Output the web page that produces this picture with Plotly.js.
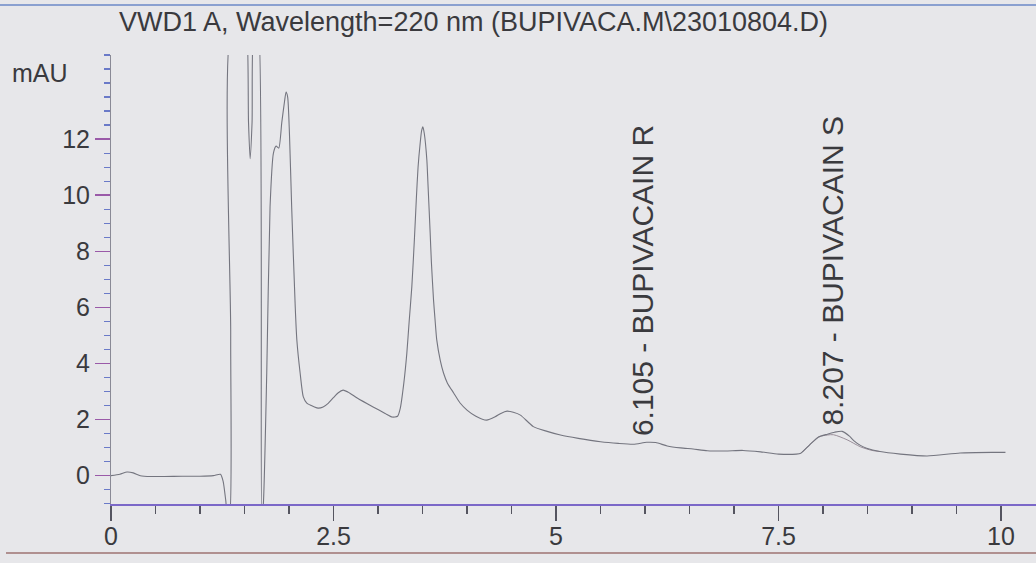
<!DOCTYPE html>
<html>
<head>
<meta charset="utf-8">
<script src="https://cdn.plot.ly/plotly-3.0.1.min.js"></script>
<style>
html,body{margin:0;padding:0;background:#e7e7ea;}
#chart{width:1036px;height:563px;}
</style>
</head>
<body>
<div id="chart"></div>
<script>
// Retention time (min) and absorbance (mAU)
const timeMin = [
  0.00, 0.10, 0.18, 0.25, 0.33, 0.45, 0.60, 0.80, 1.00, 1.15, 1.23, 1.26, 1.29, 1.31, 1.33, 1.345, 1.36,
  1.50, 1.52, 1.545, 1.563, 1.585, 1.608, 1.64, 1.656, 1.694, 1.712, 1.75, 1.787, 1.825, 1.855, 1.885, 1.919, 1.95, 1.967,
  1.985, 2.005, 2.03, 2.07, 2.088, 2.125, 2.16, 2.20, 2.237, 2.28, 2.327, 2.383, 2.44, 2.496, 2.55, 2.608, 2.68, 2.766, 2.945, 3.08, 3.159,
  3.22, 3.25, 3.29, 3.324, 3.35, 3.38, 3.41, 3.43, 3.45, 3.474, 3.49, 3.504, 3.52, 3.549, 3.56, 3.586, 3.60, 3.624, 3.64, 3.66, 3.70, 3.736, 3.78, 3.85, 3.92, 4.00, 4.10, 4.22,
  4.317, 4.38, 4.45, 4.52, 4.60, 4.745, 4.90, 5.05, 5.25, 5.50, 5.70, 5.87, 6.02, 6.12, 6.25, 6.40, 6.54, 6.70, 6.90, 7.10, 7.30, 7.50, 7.70,
  7.75, 7.85, 7.95, 8.05, 8.13, 8.215, 8.30, 8.345, 8.42, 8.49, 8.64, 8.87, 9.17, 9.54, 9.90, 10.05
];
const absorbance = [
  0.00, 0.05, 0.13, 0.10, 0.00, -0.03, -0.03, -0.02, -0.02, 0.00, 0.05, -0.20, -0.90, -1.50, -1.50, 5.0, 16.0,
  16.0, 16.0, 12.6, 11.3, 12.6, 16.0, 16.0, 16.0, -1.50, -1.00, 3.66, 9.58, 11.50, 11.75, 11.68, 12.60, 13.35, 13.68,
  13.50, 12.20, 9.58, 6.02, 4.84, 3.66, 2.82, 2.59, 2.52, 2.46, 2.41, 2.45, 2.58, 2.77, 2.95, 3.05, 2.95, 2.77, 2.45, 2.22, 2.09,
  2.12, 2.40, 3.30, 4.37, 5.50, 6.74, 8.50, 9.83, 11.00, 11.86, 12.30, 12.44, 12.20, 11.25, 10.50, 8.65, 7.60, 6.26, 5.60, 4.84, 4.10, 3.66, 3.30, 2.95, 2.60, 2.34, 2.12, 1.98,
  2.10, 2.22, 2.30, 2.26, 2.16, 1.75, 1.58, 1.45, 1.33, 1.21, 1.15, 1.12, 1.19, 1.18, 1.06, 0.99, 0.95, 0.89, 0.88, 0.90, 0.85, 0.77, 0.77,
  0.80, 1.10, 1.38, 1.48, 1.55, 1.58, 1.40, 1.25, 1.08, 0.98, 0.86, 0.77, 0.70, 0.81, 0.83, 0.83
];
// second, slightly offset overlay visible around the BUPIVACAIN S peak
const overlayTime = [7.75, 7.85, 7.95, 8.05, 8.117, 8.27, 8.42, 8.55, 8.64];
const overlayAbs  = [0.80, 1.10, 1.38, 1.45, 1.46, 1.28, 1.03, 0.90, 0.86];

const peakTimes  = [6.105, 8.207];
const peakNames  = ["6.105 - BUPIVACAIN R", "8.207 - BUPIVACAIN S"];
const labelX     = [5.972, 8.096];
const labelY     = [1.34, 1.70];

const titleText = "VWD1 A, Wavelength=220 nm (BUPIVACA.M\\23010804.D)";
const yUnit = "mAU";
const xTickVals = [0, 2.5, 5, 7.5, 10];
const xTickText = ["0", "2.5", "5", "7.5", "10"];
const yTickVals = [0, 2, 4, 6, 8, 10, 12];
const yTickText = ["0", "2", "4", "6", "8", "10", "12"];

const font = "Liberation Sans, Arial, sans-serif";
const textCol = "#3a3a3e";

const traces = [
  {x: overlayTime, y: overlayAbs, type: "scatter", mode: "lines",
   line: {color: "#9a8f9a", width: 1, shape: "spline", smoothing: 0.8}, hoverinfo: "skip"},
  {x: timeMin, y: absorbance, type: "scatter", mode: "lines",
   line: {color: "#74757f", width: 1.1, shape: "spline", smoothing: 0.6}}
];

const annotations = peakNames.map((t, i) => ({
  x: labelX[i], y: labelY[i], xref: "x", yref: "y",
  text: t, showarrow: false, textangle: -90,
  xanchor: "center", yanchor: "bottom",
  font: {family: font, size: 30, color: textCol}
}));
annotations.push({
  x: 0.3924, y: 1.0735, xref: "paper", yref: "paper",
  text: titleText, showarrow: false, xanchor: "center", yanchor: "middle",
  font: {family: font, size: 27, color: textCol}
});
annotations.push({
  x: -0.1092, y: 0.96, xref: "paper", yref: "paper",
  text: yUnit, showarrow: false, xanchor: "left", yanchor: "middle",
  font: {family: font, size: 25, color: textCol}
});

const layout = {
  width: 1036, height: 563,
  margin: {l: 111, r: 0, t: 55, b: 59},
  paper_bgcolor: "#e7e7ea", plot_bgcolor: "#e7e7ea",
  showlegend: false,
  xaxis: {
    range: [0, 10.393], showgrid: false, zeroline: false,
    showline: true, linecolor: "#7b68c8", linewidth: 1.5,
    ticks: "outside", ticklen: 15, tickwidth: 1.3, tickcolor: "#555560",
    tickvals: xTickVals, ticktext: xTickText, ticklabelstandoff: -6,
    tickfont: {family: font, size: 25, color: textCol},
    minor: {dtick: 0.5, ticks: "outside", ticklen: 8, tickcolor: "#555560", tickwidth: 1.2, showgrid: false}
  },
  yaxis: {
    range: [-1.01, 15.0], showgrid: false, zeroline: false,
    showline: true, linecolor: "#8a8a96", linewidth: 1,
    ticks: "outside", ticklen: 15, tickwidth: 1.5, tickcolor: "#9a5aa8",
    tickvals: yTickVals, ticktext: yTickText,
    tickfont: {family: font, size: 25, color: textCol},
    minor: {dtick: 0.5, ticks: "outside", ticklen: 6, tickcolor: "#6a7ac8", tickwidth: 1.3, showgrid: false}
  },
  annotations: annotations,
  shapes: [
    {type: "line", xref: "paper", yref: "paper", x0: -0.12, x1: 1, y0: 1.1113, y1: 1.1113,
     line: {color: "#8aa0d0", width: 2}},
    {type: "line", xref: "paper", yref: "paper", x0: -0.1135, x1: 1, y0: -0.1091, y1: -0.1091,
     line: {color: "#b09090", width: 2}}
  ]
};

Plotly.newPlot("chart", traces, layout, {displayModeBar: false, staticPlot: true});
</script>
</body>
</html>
